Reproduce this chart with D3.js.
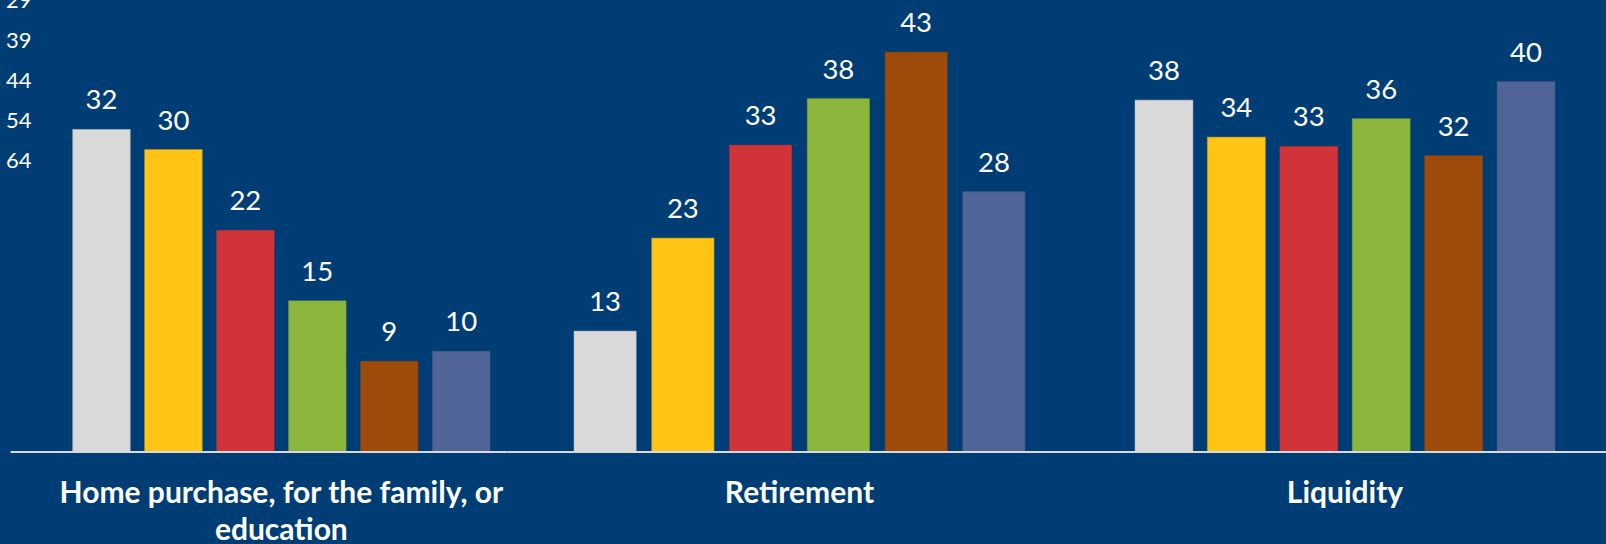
<!DOCTYPE html>
<html>
<head>
<meta charset="utf-8">
<script src="https://cdn.jsdelivr.net/npm/d3@7"></script>
<style>
  html, body { margin: 0; padding: 0; background: #003d74; overflow: hidden; }
  svg { display: block; }
</style>
</head>
<body>
<svg id="chart"></svg>
<script>
// Saving motives by age group (percent of respondents)
const categories = ["Home purchase, for the family, or education", "Retirement", "Liquidity"];

// Age-group legend labels (left margin)
const legendLabels = ["29", "39", "44", "54", "64"];

// One array per age group, values in category order
const ageGroup1 = [32, 13, 38];
const ageGroup2 = [30, 23, 34];
const ageGroup3 = [22, 33, 33];
const ageGroup4 = [15, 38, 36];
const ageGroup5 = [9, 43, 32];
const ageGroup6 = [10, 28, 40];

const seriesColors = ["#d9d9d9", "#ffc414", "#d13438", "#8db63c", "#9e4a0a", "#516497"];
const allSeries = [ageGroup1, ageGroup2, ageGroup3, ageGroup4, ageGroup5, ageGroup6];

const W = 1606, H = 544;
const baselineY = 452;

// Each category is drawn as its own small panel with its own scales
const panels = [
  { barStart: 72.7, barEnd: 490, pxPerUnit: 10.08, axis: [10, 507], wrapWidth: 480 },
  { barStart: 574, barEnd: 1025, pxPerUnit: 9.3, axis: [507, 1073], wrapWidth: 480 },
  { barStart: 1135, barEnd: 1555, pxPerUnit: 9.26, axis: [1047, 1606], wrapWidth: 480 }
];

const svg = d3.select("#chart").attr("width", W).attr("height", H);
svg.append("rect").attr("width", W).attr("height", H).attr("fill", "#003d74");

const seriesIdx = d3.range(allSeries.length);

panels.forEach((p, ci) => {
  const g = svg.append("g");
  const x = d3.scaleBand().domain(seriesIdx).range([p.barStart, p.barEnd])
    .paddingInner(0.2).paddingOuter(0);
  const yTop = 50;
  const y = d3.scaleLinear().domain([0, yTop]).range([baselineY, baselineY - yTop * p.pxPerUnit]);

  const data = seriesIdx.map(si => ({ si, v: allSeries[si][ci] }));

  g.selectAll("rect.bar").data(data).join("rect")
    .attr("class", "bar")
    .attr("x", d => x(d.si))
    .attr("width", x.bandwidth())
    .attr("y", d => y(d.v))
    .attr("height", d => y(0) - y(d.v))
    .attr("fill", d => seriesColors[d.si])
    .attr("stroke", d => d3.color(seriesColors[d.si]).darker(0.4))
    .attr("stroke-opacity", 0.5)
    .attr("stroke-width", 1);

  g.selectAll("text.val").data(data).join("text")
    .attr("class", "val")
    .attr("x", d => x(d.si) + x.bandwidth() / 2)
    .attr("y", d => y(d.v) - 20)
    .attr("text-anchor", "middle")
    .attr("fill", "#ffffff")
    .style("font-family", "Lato, 'Open Sans', sans-serif")
    .style("font-size", "27.5px")
    .text(d => d.v);

  // Baseline of the panel
  const ax = d3.scaleLinear().domain([0, 1]).range(p.axis);
  const axisG = g.append("g").attr("transform", `translate(0,${baselineY - 0.5})`)
    .call(d3.axisBottom(ax).tickValues([]).tickSizeOuter(0));
  axisG.select(".domain").attr("stroke", "#d9d9d9").attr("stroke-width", 2);

  // Category label, wrapped to the panel width
  const label = g.append("text")
    .attr("text-anchor", "middle")
    .attr("fill", "#ffffff")
    .style("font-family", "Lato, 'Open Sans', sans-serif")
    .style("font-weight", "bold")
    .style("font-size", "30px");
  const cx = (p.barStart + p.barEnd) / 2;
  const words = categories[ci].split(" ");
  let lines = [], line = [];
  const probe = label.append("tspan");
  words.forEach(w => {
    const test = line.concat(w).join(" ");
    probe.text(test);
    if (probe.node().getComputedTextLength() > p.wrapWidth && line.length) {
      lines.push(line.join(" "));
      line = [w];
    } else {
      line.push(w);
    }
  });
  lines.push(line.join(" "));
  probe.remove();
  lines.forEach((t, i) => {
    label.append("tspan").attr("x", cx).attr("y", 502.7 + i * 37).text(t);
  });
});

// Legend labels down the left edge
svg.append("g").selectAll("text").data(legendLabels).join("text")
  .attr("x", 31.5)
  .attr("y", (d, i) => 8.3 + i * 40)
  .attr("text-anchor", "end")
  .attr("fill", "#ffffff")
  .style("font-family", "Lato, 'Open Sans', sans-serif")
  .style("font-size", "22px")
  .text(d => d);
</script>
</body>
</html>
